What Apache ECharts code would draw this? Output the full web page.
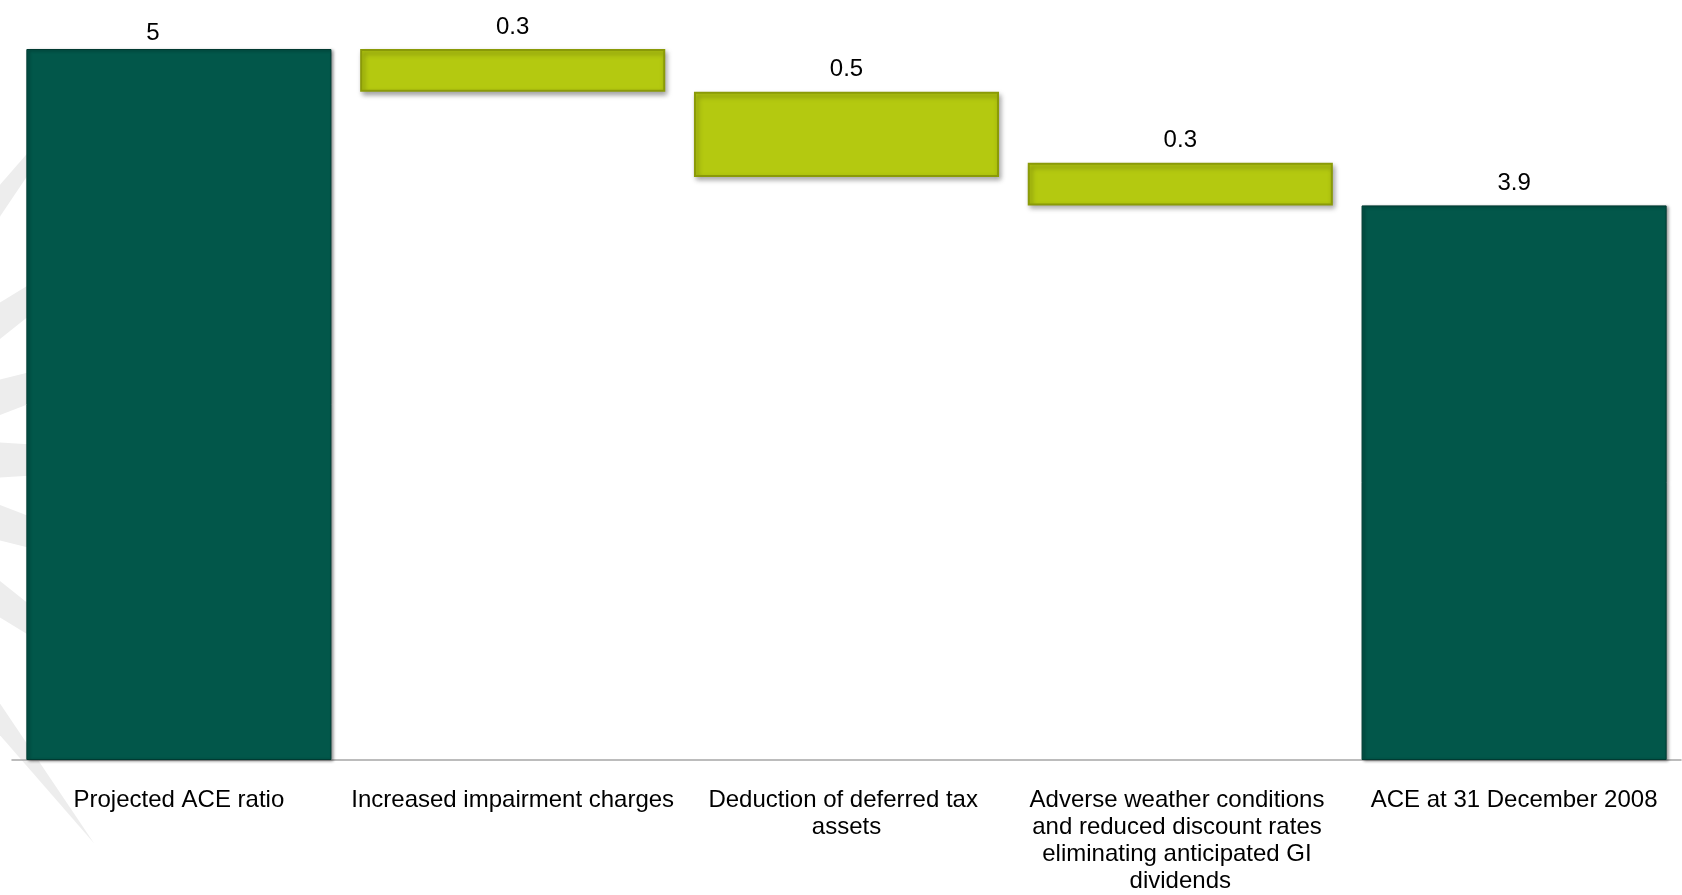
<!DOCTYPE html>
<html>
<head>
<meta charset="utf-8">
<script src="https://cdn.jsdelivr.net/npm/echarts@6/dist/echarts.min.js"></script>
<style>
* { margin: 0; padding: 0; }
html, body { background: #fff; }
#chart { width: 1682px; height: 895px; }
</style>
</head>
<body>
<div id="chart"></div>
<script>
// categories along the x axis
var categories = [
  'Projected ACE ratio',
  'Increased impairment charges',
  'Deduction of deferred tax assets',
  'Adverse weather conditions and reduced discount rates eliminating anticipated GI dividends',
  'ACE at 31 December 2008'
]
// invisible base of each floating bar, and the visible bar height (as drawn)
var baseValues = [0, 4.7, 4.1, 3.9, 0]
var barValues = [5, 0.3, 0.6, 0.3, 3.9]
// text printed above each bar
var valueLabels = ['5', '0.3', '0.5', '0.3', '3.9']
// total bars vs step bars
var barKinds = ['total', 'step', 'step', 'step', 'total']

var fontFam = 'Arial, "Liberation Sans", sans-serif'

var styles = {
  total: {
    color: '#02574A',
    borderColor: '#013a31',
    borderWidth: 1,
    shadowColor: 'rgba(0,0,0,0.45)',
    shadowBlur: 3,
    shadowOffsetX: 2,
    shadowOffsetY: 1
  },
  step: {
    color: '#B4C910',
    borderColor: '#8a9a08',
    borderWidth: 2,
    shadowColor: 'rgba(0,0,0,0.35)',
    shadowBlur: 5,
    shadowOffsetX: 2,
    shadowOffsetY: 3
  }
}

// faint starburst rays at the left edge (background decoration)
var rays = []
var rayAngles = [-52.5, -35, -17.5, 0, 17.5, 35, 52.5]
rayAngles.forEach(function (deg) {
  var t = deg * Math.PI / 180
  var cx = -200, cy = 460, len = 483, half = 30
  var px = -Math.sin(t) * half, py = Math.cos(t) * half
  rays.push({
    type: 'polygon',
    z: -10,
    silent: true,
    shape: {
      points: [[cx + px, cy + py], [cx - px, cy - py], [cx + len * Math.cos(t), cy + len * Math.sin(t)]]
    },
    style: { fill: '#ededed' }
  })
})

var chart = echarts.init(document.getElementById('chart'))
chart.setOption({
  animation: false,
  backgroundColor: '#fff',
  graphic: rays,
  grid: {
    left: 12,
    right: 0,
    top: 49,
    bottom: 134
  },
  xAxis: {
    type: 'category',
    data: categories,
    axisLine: { lineStyle: { color: '#a6a6a6', width: 1.5 } },
    axisTick: { length: 7, lineStyle: { color: '#a6a6a6', width: 1.5 } },
    axisLabel: {
      interval: 0,
      margin: 27,
      color: '#000',
      fontSize: 24,
      fontFamily: fontFam,
      lineHeight: 27,
      width: 330,
      overflow: 'break'
    }
  },
  yAxis: {
    type: 'value',
    min: 0,
    max: 5,
    show: false,
    splitLine: { show: false }
  },
  series: [
    {
      type: 'bar',
      stack: 'wf',
      silent: true,
      itemStyle: { color: 'transparent' },
      data: baseValues,
      barCategoryGap: '8.6%'
    },
    {
      type: 'bar',
      stack: 'wf',
      barCategoryGap: '8.6%',
      data: barValues.map(function (v, i) {
        var item = { value: v, itemStyle: styles[barKinds[i]] }
        // the first label sits left of centre in the original
        if (i === 0) item.label = { offset: [-26, 6] }
        return item
      }),
      label: {
        show: true,
        position: 'top',
        distance: 10,
        color: '#000',
        fontSize: 24,
        fontFamily: fontFam,
        formatter: function (p) { return valueLabels[p.dataIndex] }
      }
    }
  ]
})
</script>
</body>
</html>
